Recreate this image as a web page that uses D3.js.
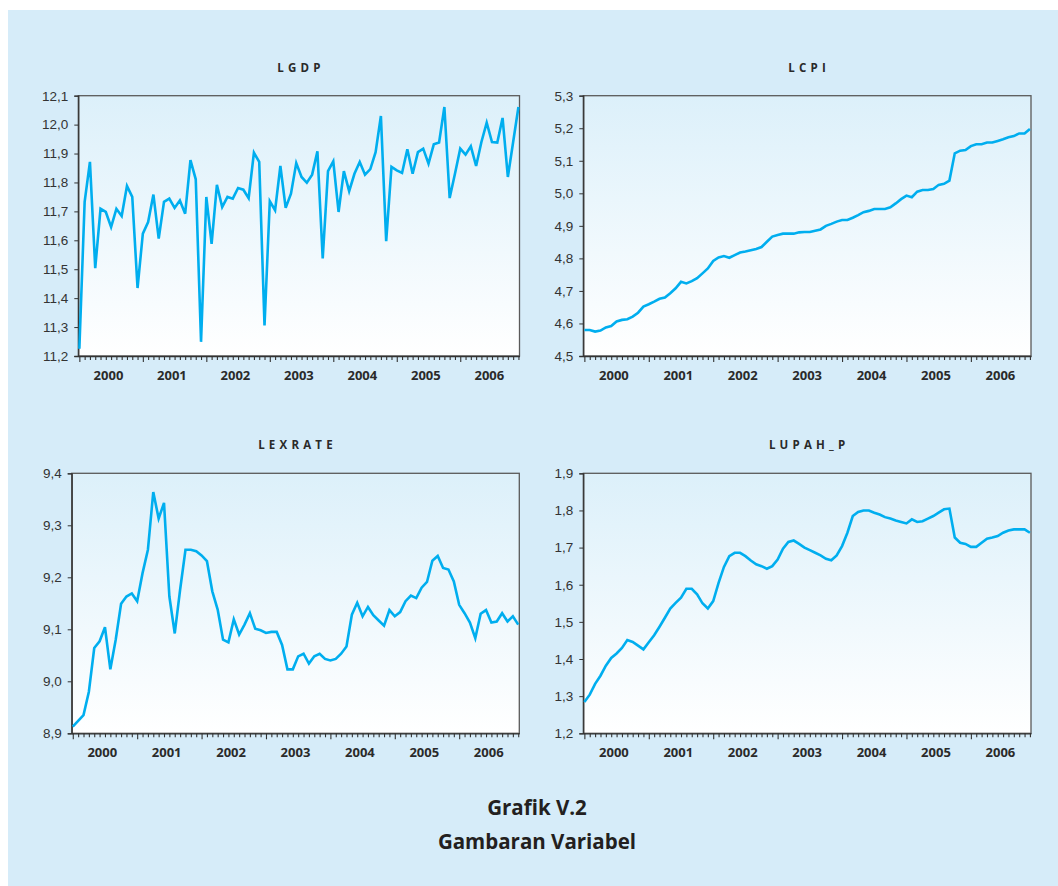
<!DOCTYPE html>
<html>
<head>
<meta charset="utf-8">
<script src="https://cdn.jsdelivr.net/npm/d3@7"></script>
<style>
  body { margin: 0; background: #fff; }
  svg { display: block; font-family: "Open Sans", "Noto Sans", sans-serif; }
</style>
</head>
<body>
<script>
// Data: monthly observations, Jan 2000 - Dec 2006
var years = ["2000", "2001", "2002", "2003", "2004", "2005", "2006"];

var lgdp = [11.225, 11.733, 11.871, 11.504, 11.709, 11.698, 11.646, 11.709, 11.684, 11.788, 11.750, 11.435,
  11.623, 11.663, 11.758, 11.606, 11.733, 11.744, 11.712, 11.738, 11.692, 11.877, 11.811, 11.249,
  11.750, 11.588, 11.792, 11.715, 11.750, 11.744, 11.781, 11.775, 11.746, 11.903, 11.871, 11.306,
  11.735, 11.704, 11.857, 11.712, 11.761, 11.867, 11.819, 11.799, 11.827, 11.908, 11.537, 11.839,
  11.873, 11.698, 11.839, 11.770, 11.830, 11.871, 11.827, 11.846, 11.905, 12.030, 11.597, 11.854,
  11.842, 11.833, 11.915, 11.830, 11.905, 11.917, 11.865, 11.932, 11.938, 12.061, 11.746, 11.830,
  11.917, 11.896, 11.925, 11.857, 11.940, 12.007, 11.940, 11.938, 12.023, 11.819, 11.940, 12.061];

var lcpi = [4.580, 4.580, 4.575, 4.578, 4.588, 4.592, 4.606, 4.611, 4.613, 4.621, 4.633, 4.652,
  4.659, 4.667, 4.676, 4.680, 4.693, 4.708, 4.728, 4.723, 4.730, 4.739, 4.754, 4.769,
  4.792, 4.803, 4.807, 4.802, 4.810, 4.818, 4.821, 4.825, 4.829, 4.835, 4.851, 4.867,
  4.872, 4.876, 4.876, 4.876, 4.880, 4.881, 4.881, 4.885, 4.889, 4.900, 4.906, 4.913,
  4.918, 4.918, 4.925, 4.933, 4.942, 4.946, 4.952, 4.952, 4.952, 4.957, 4.969, 4.982,
  4.993, 4.988, 5.005, 5.010, 5.010, 5.013, 5.026, 5.029, 5.039, 5.123, 5.131, 5.133,
  5.145, 5.151, 5.151, 5.156, 5.156, 5.161, 5.166, 5.172, 5.176, 5.184, 5.184, 5.198];

var lexrate = [8.913, 8.924, 8.935, 8.980, 9.064, 9.077, 9.104, 9.023, 9.080, 9.149, 9.163, 9.169,
  9.154, 9.208, 9.253, 9.364, 9.313, 9.343, 9.163, 9.092, 9.176, 9.253, 9.253, 9.250,
  9.242, 9.231, 9.173, 9.138, 9.080, 9.075, 9.119, 9.090, 9.109, 9.131, 9.101, 9.098,
  9.093, 9.095, 9.095, 9.070, 9.023, 9.023, 9.048, 9.053, 9.034, 9.048, 9.053, 9.043,
  9.040, 9.043, 9.053, 9.067, 9.128, 9.151, 9.125, 9.143, 9.127, 9.117, 9.107, 9.137,
  9.125, 9.133, 9.154, 9.165, 9.160, 9.180, 9.191, 9.232, 9.241, 9.218, 9.215, 9.192,
  9.147, 9.131, 9.113, 9.083, 9.130, 9.137, 9.113, 9.115, 9.131, 9.115, 9.125, 9.109];

var lupah_p = [1.284, 1.304, 1.333, 1.355, 1.382, 1.403, 1.415, 1.430, 1.451, 1.446, 1.436, 1.426,
  1.445, 1.464, 1.487, 1.511, 1.536, 1.551, 1.565, 1.589, 1.589, 1.574, 1.550, 1.536,
  1.556, 1.605, 1.648, 1.677, 1.686, 1.686, 1.677, 1.665, 1.655, 1.650, 1.643, 1.650,
  1.668, 1.697, 1.715, 1.719, 1.710, 1.700, 1.693, 1.686, 1.679, 1.670, 1.666, 1.679,
  1.704, 1.740, 1.785, 1.796, 1.800, 1.800, 1.794, 1.789, 1.782, 1.778, 1.773, 1.769,
  1.765, 1.776, 1.769, 1.771, 1.778, 1.785, 1.794, 1.803, 1.805, 1.727, 1.713, 1.710,
  1.702, 1.702, 1.713, 1.724, 1.727, 1.731, 1.740, 1.746, 1.749, 1.749, 1.749, 1.740];

var titles = ["LGDP", "LCPI", "LEXRATE", "LUPAH_P"];
var yDomains = [[11.2, 12.1], [4.5, 5.3], [8.9, 9.4], [1.2, 1.9]];
var seriesList = [lgdp, lcpi, lexrate, lupah_p];

// panel boxes (plot area)
var boxes = [
  {left: 78.3, top: 95.7, right: 519.5, bottom: 356},
  {left: 583.3, top: 95.7, right: 1031, bottom: 356},
  {left: 71.7, top: 473.3, right: 519.3, bottom: 733.3},
  {left: 583.3, top: 473.3, right: 1031, bottom: 733.3}
];

var W = 1058, H = 886;
var lineColor = "#00aeef";

var locale = d3.formatLocale({decimal: ",", thousands: ".", grouping: [3], currency: ["", ""]});
var fmt = locale.format(".1f");

var svg = d3.select("body").append("svg")
    .attr("width", W)
    .attr("height", H);

// gradient for plot areas
var defs = svg.append("defs");
var grad = defs.append("linearGradient")
    .attr("id", "plotGrad")
    .attr("x1", 0).attr("y1", 0).attr("x2", 0).attr("y2", 1);
grad.append("stop").attr("offset", "0%").attr("stop-color", "#dcf0fa");
grad.append("stop").attr("offset", "100%").attr("stop-color", "#ffffff");

// background panel
svg.append("rect")
    .attr("x", 8).attr("y", 10)
    .attr("width", W - 8).attr("height", H - 10)
    .attr("fill", "#d6ecf9");

seriesList.forEach(function(data, k) {
  var b = boxes[k];
  var w = b.right - b.left, h = b.bottom - b.top;

  var xScale = d3.scaleLinear()
      .domain([-0.2, data.length - 1 + 0.2])
      .range([0, w]);

  var yScale = d3.scaleLinear()
      .domain(yDomains[k])
      .range([h, 0]);

  var g = svg.append("g")
      .attr("transform", "translate(" + b.left + "," + b.top + ")");

  g.append("rect")
      .attr("width", w).attr("height", h)
      .attr("fill", "url(#plotGrad)")
      .attr("stroke", "#5a5a5a")
      .attr("stroke-width", 1.3);

  // Y Achse
  var yTicks = d3.range(Math.round(yDomains[k][0] * 10), Math.round(yDomains[k][1] * 10) + 1).map(function(v) { return v / 10; });
  var yAxis = g.append("g")
      .call(d3.axisLeft(yScale).tickValues(yTicks).tickFormat(fmt).tickSize(4).tickPadding(6));
  yAxis.select(".domain").attr("stroke", "#333").attr("stroke-width", 1.3);
  yAxis.selectAll(".tick line").attr("stroke", "#333");
  yAxis.selectAll(".tick text")
      .attr("fill", "#333")
      .style("font-size", "13.5px")
      .style("font-weight", "400");

  // X Achse: monthly ticks, longer ticks at January
  var xAxis = g.append("g")
      .attr("transform", "translate(0," + h + ")")
      .call(d3.axisBottom(xScale).tickValues(d3.range(data.length)).tickFormat("").tickSizeOuter(0).tickSizeInner(4));
  xAxis.select(".domain").attr("stroke", "#333").attr("stroke-width", 1.3);
  xAxis.selectAll(".tick line")
      .attr("stroke", "#333")
      .attr("stroke-width", 1.1)
      .attr("y2", function(d) { return d % 12 === 0 ? 6 : 4; });

  // year labels, centred in the year
  g.selectAll(".year")
      .data(years)
      .enter().append("text")
      .attr("class", "year")
      .attr("x", function(d, i) { return xScale(i * 12 + 5.5); })
      .attr("y", h + 24)
      .attr("text-anchor", "middle")
      .attr("fill", "#2a2a2a")
      .style("font-size", "13px")
      .style("font-weight", "700")
      .text(function(d) { return d; });

  // Linie
  var line = d3.line()
      .x(function(d, i) { return xScale(i); })
      .y(function(d) { return yScale(d); });

  g.append("path")
      .datum(data)
      .attr("d", line)
      .attr("fill", "none")
      .attr("stroke", lineColor)
      .attr("stroke-width", 2.6)
      .attr("stroke-linejoin", "miter");

  // title
  svg.append("text")
      .attr("x", (b.left + b.right) / 2 + 2)
      .attr("y", b.top - 24)
      .attr("text-anchor", "middle")
      .attr("fill", "#2a2a2a")
      .style("font-size", "11.5px")
      .style("font-weight", "700")
      .style("letter-spacing", "4.2px")
      .text(titles[k]);
});

// caption
svg.append("text")
    .attr("x", 537).attr("y", 815)
    .attr("text-anchor", "middle")
    .attr("fill", "#231f20")
    .style("font-size", "20.5px")
    .style("font-weight", "700")
    .text("Grafik V.2");

svg.append("text")
    .attr("x", 537).attr("y", 849)
    .attr("text-anchor", "middle")
    .attr("fill", "#231f20")
    .style("font-size", "20.5px")
    .style("font-weight", "700")
    .text("Gambaran Variabel");
</script>
</body>
</html>
